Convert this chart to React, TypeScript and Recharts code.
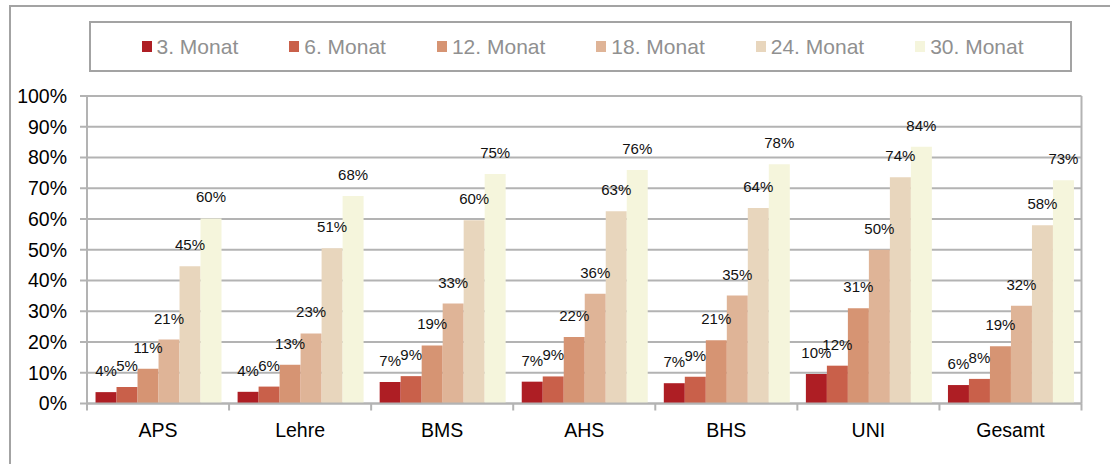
import React from 'react';
import { BarChart, Bar, XAxis, YAxis, CartesianGrid, LabelList } from 'recharts';

const categories = ['APS', 'Lehre', 'BMS', 'AHS', 'BHS', 'UNI', 'Gesamt'];
const monat3 = [3.7, 3.8, 7.0, 7.1, 6.6, 9.6, 6.0];
const monat6 = [5.4, 5.5, 8.9, 8.8, 8.7, 12.3, 8.0];
const monat12 = [11.3, 12.6, 18.9, 21.6, 20.6, 31.0, 18.6];
const monat18 = [20.8, 22.8, 32.5, 35.7, 35.1, 50.0, 31.8];
const monat24 = [44.6, 50.5, 59.6, 62.5, 63.6, 73.6, 58.0];
const monat30 = [60.2, 67.5, 74.6, 75.9, 77.8, 83.5, 72.6];
const seriesNames = ['3. Monat', '6. Monat', '12. Monat', '18. Monat', '24. Monat', '30. Monat'];
const yTicks = [0, 10, 20, 30, 40, 50, 60, 70, 80, 90, 100];

const seriesValues = [monat3, monat6, monat12, monat18, monat24, monat30];
const seriesKeys = ['m3', 'm6', 'm12', 'm18', 'm24', 'm30'];
const seriesColors = ['#AE1E24', '#C9604A', '#D69473', '#DFB497', '#E8D6BD', '#F5F5DC'];

const data = categories.map((name, i) => {
  const row: any = { name };
  seriesKeys.forEach((k, s) => {
    row[k] = seriesValues[s][i];
  });
  return row;
});

const FONT = '"Liberation Sans", Arial, sans-serif';
const W = 1110;
const H = 464;
const PLOT_LEFT = 87;
const PLOT_RIGHT = 1081.5;
const PLOT_TOP = 96;
const PLOT_BOTTOM = 403.5;
const BAND = (PLOT_RIGHT - PLOT_LEFT) / categories.length;
const GRID = '#b3b3b3';

const fmt = (v: any) => `${Math.round(Number(v))}%`;

const XTick = (props: any) => {
  const { x, payload, index } = props;
  const left = x - BAND / 2;
  const right = x + BAND / 2;
  return (
    <g>
      <line x1={left} x2={left} y1={PLOT_BOTTOM} y2={PLOT_BOTTOM + 7} stroke={GRID} strokeWidth={2} />
      {index === categories.length - 1 && (
        <line x1={right} x2={right} y1={PLOT_BOTTOM} y2={PLOT_BOTTOM + 7} stroke={GRID} strokeWidth={2} />
      )}
      <text x={x} y={437} textAnchor="middle" fontSize={19.5} fill="#000" fontFamily={FONT}>
        {payload.value}
      </text>
    </g>
  );
};

const renderLabel = (props: any) => {
  const { x, y, width, value } = props;
  return (
    <text
      x={Number(x) + Number(width) / 2}
      y={Number(y) - 16}
      textAnchor="middle"
      fontSize={15}
      fill="#111"
      fontFamily={FONT}
    >
      {fmt(value)}
    </text>
  );
};

export default function App() {
  return (
    <div style={{ position: 'absolute', left: 0, top: 0, width: W, height: H, background: '#fff', overflow: 'hidden', fontFamily: FONT }}>
      <div
        style={{
          position: 'absolute',
          left: 9,
          top: 5,
          width: W,
          height: H,
          borderLeft: '2px solid #a3a3a3',
          borderTop: '2px solid #a3a3a3',
        }}
      />
      <div style={{ position: 'absolute', left: 0, top: 0 }}>
        <BarChart
          width={W}
          height={H}
          data={data}
          margin={{ top: PLOT_TOP, right: W - PLOT_RIGHT, left: 0, bottom: 20.5 }}
          barCategoryGap="6%"
          barGap={0}
        >
          <CartesianGrid
            horizontal
            vertical
            verticalPoints={[PLOT_RIGHT]}
            stroke={GRID}
            strokeWidth={2}
          />
          <XAxis
            dataKey="name"
            height={40}
            axisLine={{ stroke: GRID, strokeWidth: 2 }}
            tickLine={false}
            tick={<XTick />}
            interval={0}
          />
          <YAxis
            width={PLOT_LEFT}
            domain={[0, 100]}
            ticks={yTicks}
            interval={0}
            tickFormatter={(v: any) => `${v}%`}
            axisLine={{ stroke: GRID, strokeWidth: 2 }}
            tickLine={{ stroke: GRID, strokeWidth: 2 }}
            tickSize={7}
            tickMargin={13}
            tick={{ fontSize: 19.5, fill: '#000', fontFamily: FONT }}
          />
          {seriesKeys.map((k, s) => (
            <Bar key={k} dataKey={k} name={seriesNames[s]} fill={seriesColors[s]} isAnimationActive={false}>
              <LabelList dataKey={k} content={renderLabel} />
            </Bar>
          ))}
        </BarChart>
      </div>
      <div
        style={{
          position: 'absolute',
          left: 89,
          top: 21,
          width: 983,
          height: 51,
          boxSizing: 'border-box',
          border: '2px solid #a3a3a3',
          display: 'flex',
          alignItems: 'center',
          paddingLeft: 50.5,
          gap: 51,
        }}
      >
        {seriesNames.map((n, s) => (
          <div key={n} style={{ display: 'flex', alignItems: 'center' }}>
            <div style={{ width: 10, height: 11, background: seriesColors[s], marginRight: 5 }} />
            <span style={{ fontSize: 21, color: '#909090', fontFamily: FONT, lineHeight: '24px' }}>{n}</span>
          </div>
        ))}
      </div>
    </div>
  );
}
